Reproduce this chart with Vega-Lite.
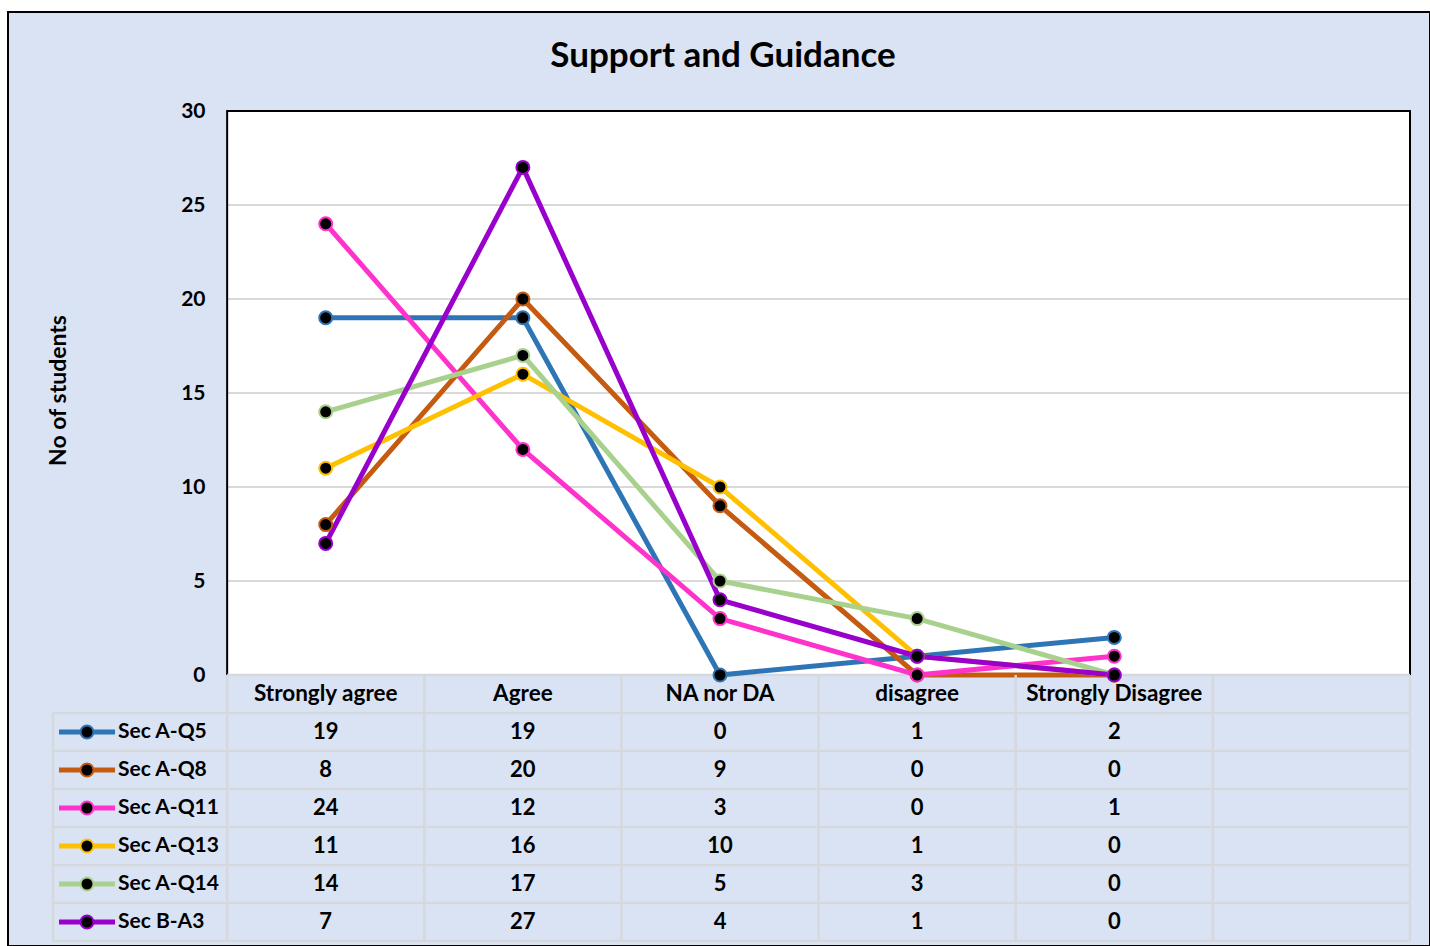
{
"$schema":"https://vega.github.io/schema/vega-lite/v6.json",
"width":1422,"height":934,
"autosize":{"type":"none"},
"padding":{"left":8,"top":12,"right":0,"bottom":0},
"background":"white",
"title":{"text":"Support and Guidance","font":"Lato","fontSize":35,"fontWeight":"bold","color":"black","anchor":"middle","frame":"group","offset":-90,"baseline":"alphabetic","dx":4},
"config":{
 "view":{"fill":"#DAE3F3","stroke":"black","strokeWidth":2},
 "text":{"font":"Lato","fontSize":21.5,"fontWeight":"bold","color":"black"}
},
"datasets":{"main":[
{"series":"Sec A-Q5","category":"Strongly agree","value":19},
{"series":"Sec A-Q5","category":"Agree","value":19},
{"series":"Sec A-Q5","category":"NA nor DA","value":0},
{"series":"Sec A-Q5","category":"disagree","value":1},
{"series":"Sec A-Q5","category":"Strongly Disagree","value":2},
{"series":"Sec A-Q8","category":"Strongly agree","value":8},
{"series":"Sec A-Q8","category":"Agree","value":20},
{"series":"Sec A-Q8","category":"NA nor DA","value":9},
{"series":"Sec A-Q8","category":"disagree","value":0},
{"series":"Sec A-Q8","category":"Strongly Disagree","value":0},
{"series":"Sec A-Q11","category":"Strongly agree","value":24},
{"series":"Sec A-Q11","category":"Agree","value":12},
{"series":"Sec A-Q11","category":"NA nor DA","value":3},
{"series":"Sec A-Q11","category":"disagree","value":0},
{"series":"Sec A-Q11","category":"Strongly Disagree","value":1},
{"series":"Sec A-Q13","category":"Strongly agree","value":11},
{"series":"Sec A-Q13","category":"Agree","value":16},
{"series":"Sec A-Q13","category":"NA nor DA","value":10},
{"series":"Sec A-Q13","category":"disagree","value":1},
{"series":"Sec A-Q13","category":"Strongly Disagree","value":0},
{"series":"Sec A-Q14","category":"Strongly agree","value":14},
{"series":"Sec A-Q14","category":"Agree","value":17},
{"series":"Sec A-Q14","category":"NA nor DA","value":5},
{"series":"Sec A-Q14","category":"disagree","value":3},
{"series":"Sec A-Q14","category":"Strongly Disagree","value":0},
{"series":"Sec B-A3","category":"Strongly agree","value":7},
{"series":"Sec B-A3","category":"Agree","value":27},
{"series":"Sec B-A3","category":"NA nor DA","value":4},
{"series":"Sec B-A3","category":"disagree","value":1},
{"series":"Sec B-A3","category":"Strongly Disagree","value":0}
]},
"data":{"name":"main"},
"resolve":{"scale":{"y":"independent"}},
"layer":[
  {"data":{"values":[{}]},
   "mark":{"type":"rect","fill":"white","strokeWidth":0},
   "encoding":{
    "x":{"datum":"Strongly agree","type":"nominal","bandPosition":0,"scale":{"type":"band","domain":["__legend","Strongly agree","Agree","NA nor DA","disagree","Strongly Disagree","__blank"],"range":[22,1402],"paddingInner":0,"paddingOuter":0},"axis":null},
    "x2":{"datum":"__blank","bandPosition":1},
    "y":{"datum":0,"type":"quantitative","scale":{"domain":[0,30],"range":[663,99],"nice":false,"zero":false},"axis":null},
    "y2":{"datum":30}
   }},
  {"data":{"values":[{"tick":5},{"tick":10},{"tick":15},{"tick":20},{"tick":25}]},
   "mark":{"type":"rule","stroke":"#D9D9D9","strokeWidth":2},
   "encoding":{
    "x":{"datum":"Strongly agree","type":"nominal","bandPosition":0,"scale":{"type":"band","domain":["__legend","Strongly agree","Agree","NA nor DA","disagree","Strongly Disagree","__blank"],"range":[22,1402],"paddingInner":0,"paddingOuter":0},"axis":null},
    "x2":{"datum":"__blank","bandPosition":1},
    "y":{"field":"tick","type":"quantitative","scale":{"domain":[0,30],"range":[663,99],"nice":false,"zero":false},"axis":null}
   }},
  {"data":{"values":[{}]},
   "mark":{"type":"rect","fill":null,"fillOpacity":0,"stroke":"black","strokeWidth":2},
   "encoding":{
    "x":{"datum":"Strongly agree","type":"nominal","bandPosition":0,"scale":{"type":"band","domain":["__legend","Strongly agree","Agree","NA nor DA","disagree","Strongly Disagree","__blank"],"range":[22,1402],"paddingInner":0,"paddingOuter":0},"axis":null},
    "x2":{"datum":"__blank","bandPosition":1},
    "y":{"datum":0,"type":"quantitative","scale":{"domain":[0,30],"range":[663,99],"nice":false,"zero":false},"axis":null},
    "y2":{"datum":30}
   }},
  {"data":{"values":[{}]},
   "mark":{"type":"rule","stroke":"#D5D8DD","strokeWidth":2.5},
   "encoding":{
    "x":{"datum":"Strongly agree","type":"nominal","bandPosition":0,"scale":{"type":"band","domain":["__legend","Strongly agree","Agree","NA nor DA","disagree","Strongly Disagree","__blank"],"range":[22,1402],"paddingInner":0,"paddingOuter":0},"axis":null},
    "x2":{"datum":"__blank","bandPosition":1},
    "y":{"datum":0,"type":"quantitative","scale":{"domain":[0,30],"range":[663,99],"nice":false,"zero":false},"axis":null}
   }},
  {"mark":{"type":"line","strokeWidth":5},
   "encoding":{
    "x":{"field":"category","type":"nominal","sort":null,"scale":{"type":"band","domain":["__legend","Strongly agree","Agree","NA nor DA","disagree","Strongly Disagree","__blank"],"range":[22,1402],"paddingInner":0,"paddingOuter":0},"axis":null},
    "y":{"field":"value","type":"quantitative","scale":{"domain":[0,30],"range":[663,99],"nice":false,"zero":false},
     "axis":{"orient":"left","zindex":1,"offset":-219,"values":[0,5,10,15,20,25,30],"grid":false,"domain":false,"ticks":false,"labelPadding":22,"labelFont":"Lato","labelFontSize":21,"labelFontWeight":"bold","labelColor":"black","title":"No of  students","titleFont":"Lato","titleFontSize":23,"titleFontWeight":"bold","titleColor":"black","titleX":-169,"titleY":378,"titleAngle":-90,"titleBaseline":"middle","titleAlign":"center"}},
    "color":{"field":"series","type":"nominal","scale":{"domain":["Sec A-Q5","Sec A-Q8","Sec A-Q11","Sec A-Q13","Sec A-Q14","Sec B-A3"],"range":["#2E75B6","#C55A11","#FF33CC","#FFC000","#A9D18E","#9900CC"]},"legend":null}
   }},
  {"mark":{"type":"point","shape":"circle","size":169,"fill":"black","strokeWidth":2,"opacity":1,"fillOpacity":1},
   "encoding":{
    "x":{"field":"category","type":"nominal","scale":{"type":"band","domain":["__legend","Strongly agree","Agree","NA nor DA","disagree","Strongly Disagree","__blank"],"range":[22,1402],"paddingInner":0,"paddingOuter":0},"axis":null},
    "y":{"field":"value","type":"quantitative","scale":{"domain":[0,30],"range":[663,99],"nice":false,"zero":false},"axis":null},
    "stroke":{"field":"series","type":"nominal","scale":{"domain":["Sec A-Q5","Sec A-Q8","Sec A-Q11","Sec A-Q13","Sec A-Q14","Sec B-A3"],"range":["#2E75B6","#C55A11","#FF33CC","#FFC000","#A9D18E","#9900CC"]},"legend":null}
   }},
  {"transform":[{"aggregate":[{"op":"count","as":"n"}],"groupby":["series"]}],
   "mark":{"type":"rule","stroke":"#D5D8DD","strokeWidth":2.5},
   "encoding":{
    "x":{"datum":"__legend","type":"nominal","bandPosition":0.1167,"scale":{"type":"band","domain":["__legend","Strongly agree","Agree","NA nor DA","disagree","Strongly Disagree","__blank"],"range":[22,1402],"paddingInner":0,"paddingOuter":0},"axis":null},
    "x2":{"datum":"__blank","bandPosition":1},
    "y":{"field":"series","type":"nominal","bandPosition":0,"scale":{"type":"band","domain":["__header","Sec A-Q5","Sec A-Q8","Sec A-Q11","Sec A-Q13","Sec A-Q14","Sec B-A3"],"range":[663,929],"paddingInner":0,"paddingOuter":0},"axis":null}
   }},
  {"data":{"values":[{}]},
   "mark":{"type":"rule","stroke":"#D5D8DD","strokeWidth":2.5},
   "encoding":{
    "x":{"datum":"__legend","type":"nominal","bandPosition":0.1167,"scale":{"type":"band","domain":["__legend","Strongly agree","Agree","NA nor DA","disagree","Strongly Disagree","__blank"],"range":[22,1402],"paddingInner":0,"paddingOuter":0},"axis":null},
    "x2":{"datum":"__blank","bandPosition":1},
    "y":{"datum":"Sec B-A3","type":"nominal","bandPosition":1,"scale":{"type":"band","domain":["__header","Sec A-Q5","Sec A-Q8","Sec A-Q11","Sec A-Q13","Sec A-Q14","Sec B-A3"],"range":[663,929],"paddingInner":0,"paddingOuter":0},"axis":null}
   }},
  {"transform":[{"aggregate":[{"op":"count","as":"n"}],"groupby":["category"]}],
   "mark":{"type":"rule","stroke":"#D5D8DD","strokeWidth":2.5},
   "encoding":{
    "x":{"field":"category","type":"nominal","bandPosition":0,"scale":{"type":"band","domain":["__legend","Strongly agree","Agree","NA nor DA","disagree","Strongly Disagree","__blank"],"range":[22,1402],"paddingInner":0,"paddingOuter":0},"axis":null},
    "y":{"datum":"__header","type":"nominal","bandPosition":0,"scale":{"type":"band","domain":["__header","Sec A-Q5","Sec A-Q8","Sec A-Q11","Sec A-Q13","Sec A-Q14","Sec B-A3"],"range":[663,929],"paddingInner":0,"paddingOuter":0},"axis":null},
    "y2":{"datum":"Sec B-A3","bandPosition":1}
   }},
  {"data":{"values":[{}]},
   "mark":{"type":"rule","stroke":"#D5D8DD","strokeWidth":2.5},
   "encoding":{
    "x":{"datum":"__blank","type":"nominal","bandPosition":0,"scale":{"type":"band","domain":["__legend","Strongly agree","Agree","NA nor DA","disagree","Strongly Disagree","__blank"],"range":[22,1402],"paddingInner":0,"paddingOuter":0},"axis":null},
    "y":{"datum":"__header","type":"nominal","bandPosition":0,"scale":{"type":"band","domain":["__header","Sec A-Q5","Sec A-Q8","Sec A-Q11","Sec A-Q13","Sec A-Q14","Sec B-A3"],"range":[663,929],"paddingInner":0,"paddingOuter":0},"axis":null},
    "y2":{"datum":"Sec B-A3","bandPosition":1}
   }},
  {"data":{"values":[{}]},
   "mark":{"type":"rule","stroke":"#D5D8DD","strokeWidth":2.5},
   "encoding":{
    "x":{"datum":"__blank","type":"nominal","bandPosition":1,"scale":{"type":"band","domain":["__legend","Strongly agree","Agree","NA nor DA","disagree","Strongly Disagree","__blank"],"range":[22,1402],"paddingInner":0,"paddingOuter":0},"axis":null},
    "y":{"datum":"__header","type":"nominal","bandPosition":0,"scale":{"type":"band","domain":["__header","Sec A-Q5","Sec A-Q8","Sec A-Q11","Sec A-Q13","Sec A-Q14","Sec B-A3"],"range":[663,929],"paddingInner":0,"paddingOuter":0},"axis":null},
    "y2":{"datum":"Sec B-A3","bandPosition":1}
   }},
  {"data":{"values":[{}]},
   "mark":{"type":"rule","stroke":"#D5D8DD","strokeWidth":2.5},
   "encoding":{
    "x":{"datum":"__legend","type":"nominal","bandPosition":0.1167,"scale":{"type":"band","domain":["__legend","Strongly agree","Agree","NA nor DA","disagree","Strongly Disagree","__blank"],"range":[22,1402],"paddingInner":0,"paddingOuter":0},"axis":null},
    "y":{"datum":"Sec A-Q5","type":"nominal","bandPosition":0,"scale":{"type":"band","domain":["__header","Sec A-Q5","Sec A-Q8","Sec A-Q11","Sec A-Q13","Sec A-Q14","Sec B-A3"],"range":[663,929],"paddingInner":0,"paddingOuter":0},"axis":null},
    "y2":{"datum":"Sec B-A3","bandPosition":1}
   }},
  {"transform":[{"aggregate":[{"op":"count","as":"n"}],"groupby":["category"]}],
   "mark":{"type":"text","fontSize":22.5},
   "encoding":{
    "x":{"field":"category","type":"nominal","scale":{"type":"band","domain":["__legend","Strongly agree","Agree","NA nor DA","disagree","Strongly Disagree","__blank"],"range":[22,1402],"paddingInner":0,"paddingOuter":0},"axis":null},
    "y":{"datum":"__header","type":"nominal","scale":{"type":"band","domain":["__header","Sec A-Q5","Sec A-Q8","Sec A-Q11","Sec A-Q13","Sec A-Q14","Sec B-A3"],"range":[663,929],"paddingInner":0,"paddingOuter":0},"axis":null},
    "text":{"field":"category","type":"nominal"}
   }},
  {"mark":{"type":"text","fontSize":22},
   "encoding":{
    "x":{"field":"category","type":"nominal","scale":{"type":"band","domain":["__legend","Strongly agree","Agree","NA nor DA","disagree","Strongly Disagree","__blank"],"range":[22,1402],"paddingInner":0,"paddingOuter":0},"axis":null},
    "y":{"field":"series","type":"nominal","scale":{"type":"band","domain":["__header","Sec A-Q5","Sec A-Q8","Sec A-Q11","Sec A-Q13","Sec A-Q14","Sec B-A3"],"range":[663,929],"paddingInner":0,"paddingOuter":0},"axis":null},
    "text":{"field":"value","type":"quantitative"}
   }},
  {"transform":[{"aggregate":[{"op":"count","as":"n"}],"groupby":["series"]}],
   "mark":{"type":"rule","strokeWidth":5},
   "encoding":{
    "x":{"datum":"__legend","type":"nominal","bandPosition":0.1471,"scale":{"type":"band","domain":["__legend","Strongly agree","Agree","NA nor DA","disagree","Strongly Disagree","__blank"],"range":[22,1402],"paddingInner":0,"paddingOuter":0},"axis":null},
    "x2":{"datum":"__legend","bandPosition":0.4312},
    "y":{"field":"series","type":"nominal","scale":{"type":"band","domain":["__header","Sec A-Q5","Sec A-Q8","Sec A-Q11","Sec A-Q13","Sec A-Q14","Sec B-A3"],"range":[663,929],"paddingInner":0,"paddingOuter":0},"axis":null},
    "color":{"field":"series","type":"nominal","scale":{"domain":["Sec A-Q5","Sec A-Q8","Sec A-Q11","Sec A-Q13","Sec A-Q14","Sec B-A3"],"range":["#2E75B6","#C55A11","#FF33CC","#FFC000","#A9D18E","#9900CC"]},"legend":null}
   }},
  {"transform":[{"aggregate":[{"op":"count","as":"n"}],"groupby":["series"]}],
   "mark":{"type":"point","shape":"circle","size":169,"fill":"black","strokeWidth":2,"opacity":1,"fillOpacity":1},
   "encoding":{
    "x":{"datum":"__legend","type":"nominal","bandPosition":0.2891,"scale":{"type":"band","domain":["__legend","Strongly agree","Agree","NA nor DA","disagree","Strongly Disagree","__blank"],"range":[22,1402],"paddingInner":0,"paddingOuter":0},"axis":null},
    "y":{"field":"series","type":"nominal","scale":{"type":"band","domain":["__header","Sec A-Q5","Sec A-Q8","Sec A-Q11","Sec A-Q13","Sec A-Q14","Sec B-A3"],"range":[663,929],"paddingInner":0,"paddingOuter":0},"axis":null},
    "stroke":{"field":"series","type":"nominal","scale":{"domain":["Sec A-Q5","Sec A-Q8","Sec A-Q11","Sec A-Q13","Sec A-Q14","Sec B-A3"],"range":["#2E75B6","#C55A11","#FF33CC","#FFC000","#A9D18E","#9900CC"]},"legend":null}
   }},
  {"transform":[{"aggregate":[{"op":"count","as":"n"}],"groupby":["series"]}],
   "mark":{"type":"text","align":"left","fontSize":21},
   "encoding":{
    "x":{"datum":"__legend","type":"nominal","bandPosition":0.4464,"scale":{"type":"band","domain":["__legend","Strongly agree","Agree","NA nor DA","disagree","Strongly Disagree","__blank"],"range":[22,1402],"paddingInner":0,"paddingOuter":0},"axis":null},
    "y":{"field":"series","type":"nominal","scale":{"type":"band","domain":["__header","Sec A-Q5","Sec A-Q8","Sec A-Q11","Sec A-Q13","Sec A-Q14","Sec B-A3"],"range":[663,929],"paddingInner":0,"paddingOuter":0},"axis":null},
    "text":{"field":"series","type":"nominal"}
   }}
]
}
